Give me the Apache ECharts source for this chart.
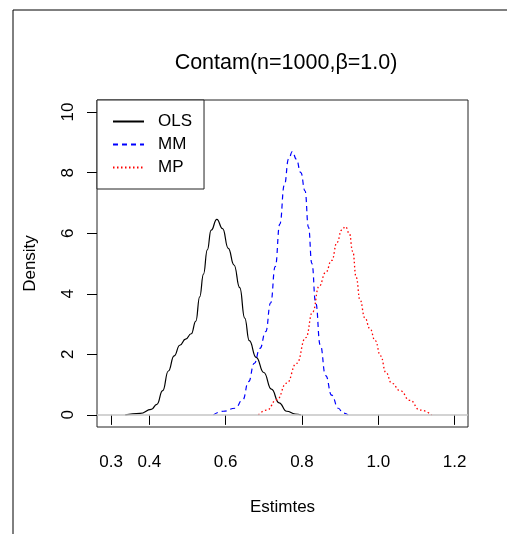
<!DOCTYPE html>
<html>
<head>
<meta charset="utf-8">
<script src="https://cdn.jsdelivr.net/npm/echarts@6/dist/echarts.min.js"></script>
<style>
html,body{margin:0;padding:0;background:#fff;}
#chart{width:507px;height:534px;}
</style>
</head>
<body>
<div id="chart"></div>
<script>
// Data
var xTicks = [0.3, 0.4, 0.6, 0.8, 1.0, 1.2];
var yTicks = [0, 2, 4, 6, 8, 10];
var olsX = [0.337,0.376,0.405,0.420,0.435,0.450,0.465,0.480,0.495,0.510,0.522,0.532,0.542,0.552,0.562,0.577,0.592,0.607,0.622,0.637,0.650,0.662,0.680,0.700,0.720,0.740,0.760,0.782,0.797];
var olsY = [0.00,0.05,0.18,0.35,0.80,1.45,1.95,2.30,2.50,2.68,3.10,3.90,4.65,5.45,6.10,6.46,6.15,5.50,4.95,4.20,3.20,2.45,1.90,1.40,0.85,0.40,0.12,0.03,0.00];
var mmX = [0.568,0.594,0.625,0.645,0.660,0.675,0.690,0.705,0.718,0.730,0.742,0.754,0.765,0.775,0.785,0.797,0.808,0.817,0.826,0.836,0.848,0.862,0.878,0.895,0.908,0.921];
var mmY = [0.00,0.12,0.22,0.50,1.10,1.70,2.20,2.75,3.70,4.90,6.30,7.60,8.45,8.70,8.45,8.00,7.40,6.20,5.00,3.70,2.30,1.30,0.65,0.22,0.06,0.00];
var mpX = [0.686,0.708,0.734,0.760,0.786,0.810,0.828,0.845,0.862,0.878,0.892,0.904,0.914,0.924,0.933,0.942,0.952,0.965,0.978,0.992,1.006,1.020,1.035,1.057,1.083,1.109,1.140];
var mpY = [0.00,0.16,0.50,1.05,1.70,2.55,3.40,4.25,4.70,5.10,5.70,6.10,6.22,6.00,5.40,4.55,3.80,3.20,2.85,2.45,1.95,1.40,1.05,0.80,0.48,0.16,0.00];
var seriesNames = ['OLS', 'MM', 'MP'];
var titleText = 'Contam(n=1000,\u03b2=1.0)';
var xName = 'Estimtes';
var yName = 'Density';

function pairs(xs, ys){ return xs.map(function(x,i){ return [x, ys[i]]; }); }

var font = 'Liberation Sans, Arial, Helvetica, sans-serif';
var colors = ['#000000', '#0000ff', '#ff0000'];
var dashes = ['solid', [5, 4], [1.5, 2.5]];
var chart = echarts.init(document.getElementById('chart'), null, {renderer:'canvas'});
chart.setOption({
  animation: false,
  backgroundColor: '#ffffff',
  title: {
    text: titleText,
    left: 281, top: 47, textAlign: 'center',
    textStyle: {fontFamily: font, fontSize: 21.5, fontWeight: 'normal', color: '#000'}
  },
  grid: {
    left: 97, right: 39, top: 100, bottom: 107,
    show: true, borderColor: '#222', borderWidth: 1, backgroundColor: 'transparent'
  },
  legend: {
    show: true,
    orient: 'vertical', left: 97, top: 100,
    backgroundColor: '#fff',
    borderColor: '#222', borderWidth: 1, borderRadius: 0,
    padding: [13, 12, 13, 15],
    itemWidth: 31, itemHeight: 14, itemGap: 6,
    itemStyle: {opacity: 0},
    textStyle: {fontFamily: font, fontSize: 17, color: '#000', padding: [0,0,0,9]},
    data: seriesNames
  },
  xAxis: {
    type: 'value', min: 0.263, max: 1.235,
    name: xName, nameLocation: 'middle', nameGap: 72,
    nameTextStyle: {fontFamily: font, fontSize: 17, color: '#000'},
    axisLine: {show: false},
    splitLine: {show: false},
    axisTick: {show: true, inside: false, length: 10, lineStyle: {color: '#000'}, customValues: xTicks},
    axisLabel: {show: true, margin: 27, fontFamily: font, fontSize: 17, color: '#000',
      customValues: xTicks,
      formatter: function(v){ return v.toFixed(1); }}
  },
  yAxis: {
    type: 'value', min: -0.4, max: 10.4,
    name: yName, nameLocation: 'middle', nameGap: 58, nameRotate: 90,
    nameTextStyle: {fontFamily: font, fontSize: 17, color: '#000'},
    axisLine: {show: false},
    splitLine: {show: false},
    axisTick: {show: true, inside: false, length: 10, lineStyle: {color: '#000'}, customValues: yTicks},
    axisLabel: {show: true, rotate: 90, margin: 20, fontFamily: font, fontSize: 17, color: '#000',
      customValues: yTicks}
  },
  series: [
    {
      name: seriesNames[0], type: 'line', data: pairs(olsX, olsY),
      showSymbol: false, symbol: 'none', smooth: 0.5, smoothMonotone: 'x',
      lineStyle: {color: colors[0], width: 1.2, type: dashes[0]}, itemStyle: {color: colors[0]},
      z: 3,
      markLine: {
        silent: true, symbol: ['none','none'], label: {show: false},
        lineStyle: {color: '#c4c4c4', width: 1.5, type: 'solid'},
        data: [{yAxis: 0}]
      }
    },
    {
      name: seriesNames[1], type: 'line', data: pairs(mmX, mmY),
      showSymbol: false, symbol: 'none', smooth: 0.5, smoothMonotone: 'x',
      lineStyle: {color: colors[1], width: 1.2, type: dashes[1]}, itemStyle: {color: colors[1]},
      z: 3
    },
    {
      name: seriesNames[2], type: 'line', data: pairs(mpX, mpY),
      showSymbol: false, symbol: 'none', smooth: 0.5, smoothMonotone: 'x',
      lineStyle: {color: colors[2], width: 1.3, type: dashes[2]}, itemStyle: {color: colors[2]},
      z: 3
    }
  ],
  graphic: [
    {type: 'line', shape: {x1: 13, y1: 10, x2: 13, y2: 534}, style: {stroke: '#000', lineWidth: 1}},
    {type: 'line', shape: {x1: 13, y1: 10, x2: 507, y2: 10}, style: {stroke: '#000', lineWidth: 1}}
  ]
});
</script>
</body>
</html>
